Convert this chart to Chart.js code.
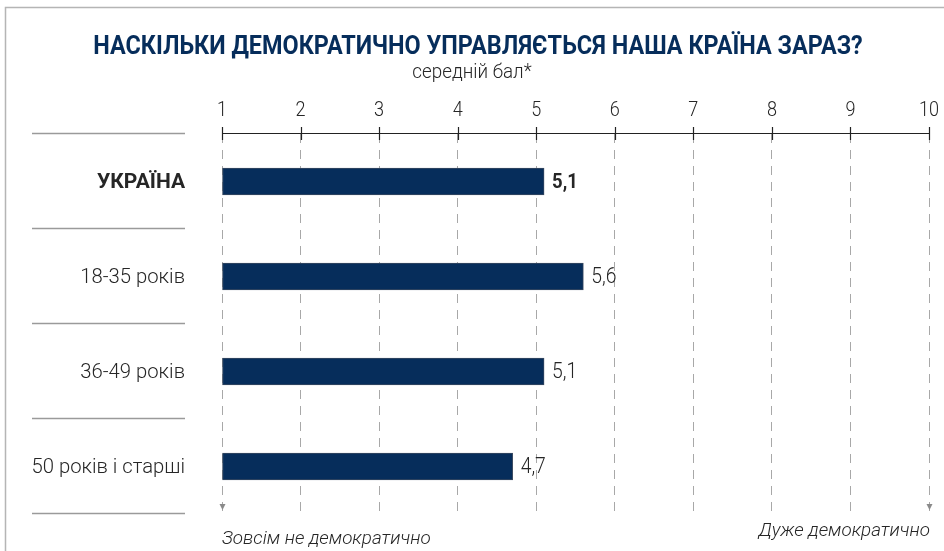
<!DOCTYPE html>
<html>
<head>
<meta charset="utf-8">
<script src="https://cdn.jsdelivr.net/npm/chart.js@4.4.1/dist/chart.umd.min.js"></script>
<style>
  html, body { margin: 0; padding: 0; background: #fff; }
  #wrap { width: 944px; height: 551px; position: relative; }
</style>
</head>
<body>
<div id="wrap"><canvas id="demChart" width="944" height="551"></canvas></div>
<script>
// data
var categories = ['УКРАЇНА', '18-35 років', '36-49 років', '50 років і старші'];
var scores = [5.1, 5.6, 5.1, 4.7];
var tickValues = [1, 2, 3, 4, 5, 6, 7, 8, 9, 10];

var chartTitle = 'НАСКІЛЬКИ ДЕМОКРАТИЧНО УПРАВЛЯЄТЬСЯ НАША КРАЇНА ЗАРАЗ?';
var chartSubtitle = 'середній бал*';
var lowLabel = 'Зовсім не демократично';
var highLabel = 'Дуже демократично';

var FONT = 'Roboto, "Open Sans", sans-serif';
var NAVY = '#062d5b';
var INK = '#262626';

// narrow text: draw with a horizontal squeeze
function squeezeText(ctx, text, x, y, font, align, sx){
    ctx.save();
    ctx.font = font;
    ctx.textBaseline = 'middle';
    ctx.textAlign = align;
    ctx.translate(x, y);
    ctx.scale(sx, 1);
    ctx.fillText(text, 0, 0);
    ctx.restore();
}

var decor = {
    id: 'decor',
    beforeDraw: function(chart){
        var ctx = chart.ctx;
        ctx.save();
        // outer frame
        ctx.strokeStyle = '#b5b5b5';
        ctx.lineWidth = 1.5;
        ctx.strokeRect(5.5, 7.5, 1200, 1200);
        ctx.restore();
    },
    afterDraw: function(chart){
        var ctx = chart.ctx;
        var xs = chart.scales.x;
        var ys = chart.scales.y;
        var area = chart.chartArea;
        ctx.save();

        // title + subtitle
        ctx.fillStyle = NAVY;
        squeezeText(ctx, chartTitle, 478, 47, 'bold 26px ' + FONT, 'center', 0.9);
        ctx.fillStyle = INK;
        squeezeText(ctx, chartSubtitle, 472, 73, '300 20px ' + FONT, 'center', 0.94);

        // tick labels along the top axis
        tickValues.forEach(function(v){
            squeezeText(ctx, String(v), xs.getPixelForValue(v), 111, '300 21px ' + FONT, 'center', 0.86);
        });

        // axis line with ticks
        var x0 = xs.getPixelForValue(1), x1 = xs.getPixelForValue(10);
        ctx.strokeStyle = '#222';
        ctx.beginPath();
        ctx.moveTo(x0, 133.5);
        ctx.lineTo(x1, 133.5);
        tickValues.forEach(function(v){
            var px = Math.round(xs.getPixelForValue(v)) + 0.5;
            ctx.moveTo(px, 127);
            ctx.lineTo(px, 140);
        });
        ctx.lineWidth = 1.2;
        ctx.stroke();

        // category separators
        ctx.strokeStyle = '#9a9a9a';
        ctx.lineWidth = 1.5;
        var step = (area.bottom - area.top) / categories.length;
        for(var i = 0; i <= categories.length; i++){
            var y = Math.round(area.top + i * step) - 0.5;
            ctx.beginPath();
            ctx.moveTo(32, y);
            ctx.lineTo(185, y);
            ctx.stroke();
        }

        // category labels
        ctx.fillStyle = INK;
        categories.forEach(function(c, i){
            var f = i === 0 ? 'bold 21px ' + FONT : '300 21px ' + FONT;
            squeezeText(ctx, c, 185, ys.getPixelForValue(i) + 1, f, 'right', i === 0 ? 1.0 : 0.965);
        });

        // value labels
        scores.forEach(function(v, i){
            var f = i === 0 ? 'bold 21px ' + FONT : '300 22px ' + FONT;
            squeezeText(ctx, String(v).replace('.', ','), xs.getPixelForValue(v) + 8, ys.getPixelForValue(i) + 1, f, 'left', 0.88);
        });

        // arrow heads at both ends of the scale
        ctx.fillStyle = '#8a8a8a';
        [1, 10].forEach(function(v){
            var px = Math.round(xs.getPixelForValue(v)) + 0.5;
            ctx.beginPath();
            ctx.moveTo(px - 3, 504);
            ctx.lineTo(px + 3, 504);
            ctx.lineTo(px, 510);
            ctx.closePath();
            ctx.fill();
        });

        // scale end captions
        ctx.fillStyle = INK;
        squeezeText(ctx, lowLabel, x0, 539, 'italic 300 19px ' + FONT, 'left', 0.99);
        squeezeText(ctx, highLabel, x1 + 1, 531, 'italic 300 19px ' + FONT, 'right', 0.99);

        ctx.restore();
    }
};

new Chart(document.getElementById('demChart'), {
    type: 'bar',
    data: {
        labels: categories,
        datasets: [{
            data: scores,
            base: 1,
            backgroundColor: NAVY,
            borderColor: '#3a4a60',
            borderWidth: 1,
            borderSkipped: false,
            barThickness: 27
        }]
    },
    options: {
        indexAxis: 'y',
        responsive: false,
        animation: false,
        layout: {
            padding: { top: 90, left: 222, right: 15, bottom: 37 }
        },
        plugins: {
            legend: { display: false },
            tooltip: { enabled: false }
        },
        scales: {
            x: {
                type: 'linear',
                position: 'top',
                min: 1,
                max: 10,
                afterBuildTicks: function(scale){
                    scale.ticks = tickValues.map(function(v){ return { value: v }; });
                },
                afterFit: function(scale){
                    scale.height = 44;
                },
                ticks: { display: false },
                grid: {
                    color: '#a8a8a8',
                    lineWidth: 1,
                    drawTicks: false
                },
                border: {
                    display: false,
                    dash: [9, 7]
                }
            },
            y: {
                display: false
            }
        }
    },
    plugins: [decor]
});
</script>
</body>
</html>
